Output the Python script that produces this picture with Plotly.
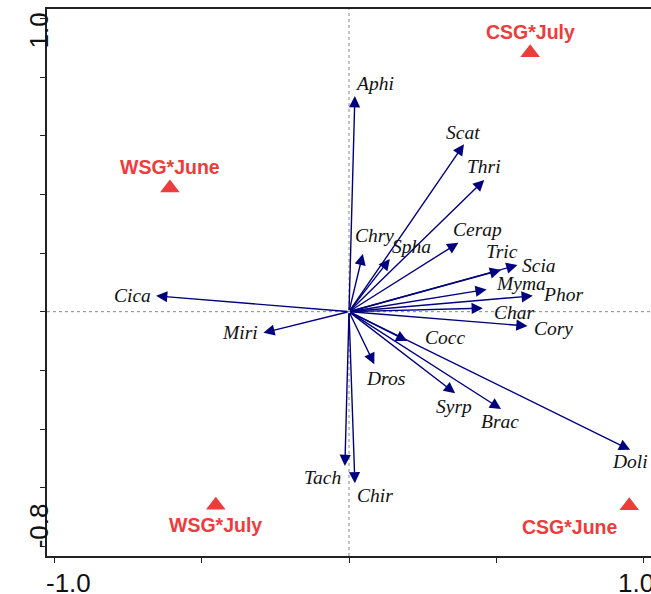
import plotly.graph_objects as go

# Species arrows (RDA biplot scores)
species = ["Aphi", "Scat", "Thri", "Cerap", "Tric", "Chry", "Spha", "Scia", "Myma",
           "Phor", "Char", "Cory", "Cocc", "Miri", "Dros", "Syrp", "Brac", "Doli",
           "Tach", "Chir", "Cica"]
sp_x = [0.020, 0.391, 0.460, 0.372, 0.517, 0.047, 0.139, 0.573, 0.468,
        0.625, 0.455, 0.607, 0.198, -0.291, 0.086, 0.361, 0.517, 0.956,
        -0.014, 0.020, -0.656]
sp_y = [0.735, 0.571, 0.449, 0.235, 0.142, 0.197, 0.180, 0.159, 0.076,
        0.054, 0.012, -0.049, -0.100, -0.072, -0.179, -0.278, -0.332, -0.471,
        -0.526, -0.585, 0.054]

# Sample (treatment) scores
sites = ["WSG*June", "CSG*July", "WSG*July", "CSG*June"]
site_x = [-0.609, 0.616, -0.453, 0.953]
site_y = [0.422, 0.883, -0.660, -0.662]

# Axis ticks
x_ticks = [-1.0, -0.5, 0.0, 0.5, 1.0]
y_ticks = [-0.8, -0.6, -0.4, -0.2, 0.0, 0.2, 0.4, 0.6, 0.8, 1.0]
x_tick_labels = {-1.0: "-1.0", 1.0: "1.0"}
y_tick_labels = {1.0: "1.0", -0.8: "-0.8"}

# label offsets in pixels (style only)
sp_offsets = {
    "Aphi": (20, 13), "Scat": (-1, 12), "Thri": (0, 13), "Cerap": (19, 13),
    "Tric": (1, 19), "Chry": (12, 18), "Spha": (22, 12), "Scia": (21, 0),
    "Myma": (34, 6), "Phor": (30, 1), "Char": (32, -4), "Cory": (26, -2),
    "Cocc": (38, 4), "Miri": (-23, 0), "Dros": (11, -14), "Syrp": (-1, -13),
    "Brac": (-1, -12), "Doli": (0, -12), "Tach": (-22, -12), "Chir": (20, -12),
    "Cica": (-24, 0),
}
site_offsets = {"WSG*June": (0, 21), "CSG*July": (0, 21),
                "WSG*July": (0, -20), "CSG*June": (-59, -21)}

NAVY = "#00007F"
RED = "#EE3B3B"

fig = go.Figure()

fig.add_trace(go.Scatter(
    x=site_x, y=site_y, mode="markers",
    marker=dict(symbol="triangle-up", size=17, color=RED, line=dict(width=0)),
    hoverinfo="text", text=sites, showlegend=False,
))

annotations = []
for name, x, y in zip(species, sp_x, sp_y):
    annotations.append(dict(
        x=x, y=y, ax=0, ay=0, xref="x", yref="y", axref="x", ayref="y",
        text="", showarrow=True, arrowhead=2, arrowsize=1.6, arrowwidth=1.4,
        arrowcolor=NAVY, standoff=0,
    ))
    dx, dy = sp_offsets[name]
    annotations.append(dict(
        x=x, y=y, xref="x", yref="y", text=name, showarrow=False,
        xshift=dx, yshift=dy,
        font=dict(family="Liberation Serif", size=19.5, color="#111111", style="italic"),
    ))

for name, x, y in zip(sites, site_x, site_y):
    dx, dy = site_offsets[name]
    annotations.append(dict(
        x=x, y=y, xref="x", yref="y", text="<b>%s</b>" % name, showarrow=False,
        xshift=dx, yshift=dy,
        font=dict(family="Liberation Sans", size=19.5, color=RED),
    ))

# end tick labels
for v, t in x_tick_labels.items():
    annotations.append(dict(
        x=v, y=0, xref="x", yref="paper", text=t, showarrow=False,
        xshift=14 if v < 0 else -7, yshift=-27, yanchor="middle",
        font=dict(family="Liberation Sans", size=26, color="#111111"),
    ))
for v, t in y_tick_labels.items():
    annotations.append(dict(
        x=0, y=v, xref="paper", yref="y", text=t, showarrow=False,
        textangle=-90, xshift=-25, yshift=-12 if v > 0 else 20,
        font=dict(family="Liberation Sans", size=26, color="#111111"),
    ))

fig.update_layout(
    width=651, height=594,
    margin=dict(l=47, r=0, t=9, b=38),
    paper_bgcolor="white", plot_bgcolor="white",
    annotations=annotations,
    shapes=[
        dict(type="line", xref="paper", yref="y", x0=0, x1=1, y0=0, y1=0,
             line=dict(color="#888888", width=1, dash="dot"), layer="below"),
        dict(type="line", xref="x", yref="paper", x0=0, x1=0, y0=0, y1=1,
             line=dict(color="#888888", width=1, dash="dot"), layer="below"),
    ],
)
fig.update_xaxes(range=[-1.027, 1.027], tickvals=x_ticks, showticklabels=False,
                 ticks="outside", ticklen=5, tickcolor="#222", tickwidth=1,
                 showline=True, linecolor="#222", linewidth=1.5, mirror=True,
                 showgrid=False, zeroline=False)
fig.update_yaxes(range=[-0.833, 1.032], tickvals=y_ticks, showticklabels=False,
                 ticks="outside", ticklen=5, tickcolor="#222", tickwidth=1,
                 showline=True, linecolor="#222", linewidth=1.5, mirror=False,
                 showgrid=False, zeroline=False)

fig.write_html("out.html", config={"displayModeBar": False},
               post_script="document.body.style.margin='0';document.body.style.overflow='hidden';")
